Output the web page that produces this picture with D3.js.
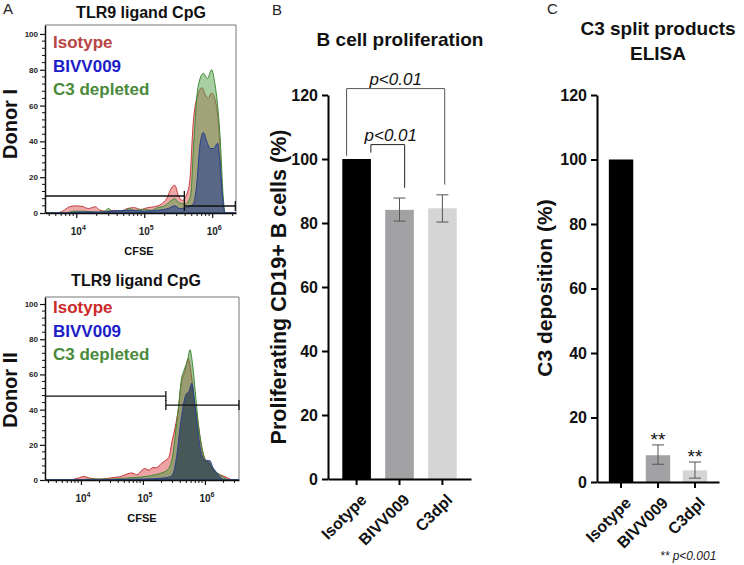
<!DOCTYPE html>
<html><head><meta charset="utf-8">
<script src="https://cdn.jsdelivr.net/npm/d3@7"></script>
<style>body{margin:0;background:#fff} svg{display:block;font-family:"Liberation Sans",Arial,sans-serif}</style>
</head><body><svg id="c" width="744" height="565"></svg>
<script>
// ---------------- DATA ----------------
// Panel A histograms: [log10(CFSE), count]
const donorI_isotype = [[3.54,0],[3.7,0],[3.8,1],[3.9,3.5],[4.0,4],[4.1,3.5],[4.18,2.5],[4.28,3.5],[4.35,1.5],[4.45,1],[4.55,1.5],[4.65,1],[4.75,2.5],[4.85,3],[4.95,2],[5.05,3],[5.15,3.5],[5.25,5],[5.33,8],[5.4,14],[5.45,15.5],[5.5,10],[5.56,7],[5.62,10],[5.67,18],[5.72,50],[5.78,65],[5.85,70],[5.9,66],[5.94,64],[5.99,67],[6.05,62],[6.1,45],[6.14,15],[6.17,2],[6.2,0],[6.35,0]];
const donorI_bivv009 = [[3.54,0],[3.9,0],[4.0,0.5],[4.4,0.5],[4.5,1],[4.8,1.5],[5.0,1],[5.2,1.5],[5.35,2.5],[5.45,4],[5.52,2.5],[5.62,3],[5.72,5],[5.77,15],[5.82,38],[5.87,45],[5.92,40],[5.97,36],[6.02,36],[6.08,39],[6.11,30],[6.15,10],[6.19,0],[6.35,0]];
const donorI_c3depleted = [[3.54,0],[3.85,0],[3.95,1],[4.1,1],[4.3,0.5],[4.42,1],[4.47,2.5],[4.55,0.5],[4.7,1],[4.78,2.5],[4.85,1.5],[5.0,2],[5.1,1.5],[5.2,3],[5.3,4],[5.4,7],[5.45,8],[5.5,6],[5.6,5],[5.68,9],[5.73,40],[5.79,70],[5.87,78],[5.93,75],[5.99,80],[6.04,72],[6.08,60],[6.12,40],[6.16,10],[6.19,0],[6.35,0]];
const donorII_isotype = [[3.42,0],[3.8,0],[3.95,1],[4.05,2],[4.15,1],[4.3,0.5],[4.45,1],[4.55,1.5],[4.65,2],[4.75,3.5],[4.82,4],[4.9,3],[4.97,5],[5.03,6.5],[5.1,5.5],[5.15,7],[5.22,7],[5.3,9.5],[5.36,11],[5.42,13],[5.47,22],[5.52,30],[5.57,40],[5.62,55],[5.68,62],[5.73,69],[5.78,60],[5.83,45],[5.88,35],[5.94,20],[6.0,12],[6.07,9],[6.15,5],[6.25,3],[6.35,1.5],[6.45,0],[6.55,0]];
const donorII_bivv009 = [[3.42,0],[4.3,0],[4.6,0.3],[5.0,0.5],[5.3,1],[5.45,2],[5.5,5],[5.55,15],[5.6,30],[5.65,42],[5.7,49],[5.74,50],[5.79,55],[5.84,42],[5.88,30],[5.93,17],[5.98,12],[6.03,11],[6.08,11],[6.13,7],[6.19,4],[6.25,1.5],[6.32,0],[6.55,0]];
const donorII_c3depleted = [[3.42,0],[4.0,0],[4.1,0.5],[4.5,0.5],[4.7,1],[4.9,1.5],[5.05,2],[5.2,3],[5.3,4],[5.4,6],[5.47,12],[5.52,25],[5.57,40],[5.62,57],[5.67,63],[5.72,68],[5.76,74],[5.8,66],[5.85,48],[5.9,30],[5.95,19],[6.0,12],[6.06,10],[6.12,7],[6.2,4],[6.3,1.5],[6.4,0],[6.55,0]];
// gates: [fromLog, toLog, level]
const gatesDonorI = [[3.54,5.59,9.5],[5.59,6.34,3.9]];
const gatesDonorII = [[3.42,5.37,47.7],[5.37,6.55,42.6]];
const histLegend = ["Isotype","BIVV009","C3 depleted"];
const histYTicks = [0,20,40,60,80,100];
const histXTicks = [4,5,6];

// Panels B and C
const barCategories = ["Isotype","BIVV009","C3dpl"];
const prolifMean = [100,84.1,84.6];
const prolifLow  = [null,80.6,80.3];
const prolifHigh = [null,87.8,88.8];
const c3Mean = [100,8.3,3.6];
const c3Low  = [null,5.5,1.2];
const c3High = [null,11.5,6.2];
const barYTicks = [0,20,40,60,80,100,120];
const barColors = ["#000000","#a2a2a4","#d5d5d5"];
const c3Stars = [null,"**","**"];

// ---------------- DRAW ----------------
const svg = d3.select("#c");
const FONT = '"Liberation Sans",Arial,sans-serif';

function panelLetter(t,x,y){
  svg.append("text").attr("x",x).attr("y",y).attr("font-size",15).attr("fill","#222").text(t);
}
panelLetter("A",3,14); panelLetter("B",272,15); panelLetter("C",547,14);

const histStylesI = {
  "Isotype":   {fill:"rgba(224,96,96,0.55)", stroke:"#c24040"},
  "BIVV009":   {fill:"rgba(42,66,140,0.62)", stroke:"#2a3d8f"},
  "C3 depleted":{fill:"rgba(84,160,74,0.5)", stroke:"#3d8a35"}
};
const histStylesII = {
  "Isotype":   {fill:"rgba(224,90,90,0.55)", stroke:"#c23030"},
  "BIVV009":   {fill:"rgba(40,62,80,0.72)", stroke:"#2a3d8f"},
  "C3 depleted":{fill:"rgba(84,150,70,0.55)", stroke:"#3d8a35"}
};

function drawHist(cfg){
  const g = svg.append("g");
  const x = d3.scaleLog().domain([10**cfg.xmin,10**cfg.xmax]).range([cfg.left,cfg.right]);
  const y = d3.scaleLinear().domain([0,cfg.ymax]).range([cfg.bottom,cfg.top]);
  const cid = "clip"+cfg.id;
  svg.append("clipPath").attr("id",cid).append("rect")
    .attr("x",cfg.left).attr("y",cfg.top).attr("width",cfg.right-cfg.left).attr("height",cfg.bottom-cfg.top);
  const area = d3.area().x(d=>x(10**d[0])).y0(y(0)).y1(d=>y(d[1])).curve(d3.curveMonotoneX);
  const hg = g.append("g").attr("clip-path",`url(#${cid})`);
  cfg.order.forEach(k=>{
    hg.append("path").datum(cfg.series[k]).attr("d",area)
      .attr("fill",cfg.styles[k].fill).attr("stroke",cfg.styles[k].stroke).attr("stroke-width",1);
  });
  // frame
  g.append("path").attr("d",`M${cfg.left},${cfg.top}H${cfg.right}V${cfg.bottom}`)
    .attr("fill","none").attr("stroke","#777").attr("stroke-width",1);
  // y axis
  const yMinor = d3.range(0,cfg.ymax+0.01,4).filter(v=>v%20!==0 && v<=100);
  const ya = g.append("g").attr("transform",`translate(${cfg.left},0)`)
    .call(d3.axisLeft(y).tickValues(histYTicks).tickSize(5).tickSizeOuter(0).tickPadding(2));
  ya.select(".domain").attr("stroke","#111").attr("stroke-width",1.5);
  ya.selectAll(".tick line").attr("stroke","#111").attr("stroke-width",1.2);
  ya.selectAll("text").attr("font-family",FONT).attr("font-weight","bold").attr("font-size",8).attr("fill","#222");
  ya.selectAll(".minor").data(yMinor).enter().append("line").attr("class","minor")
    .attr("x1",-3).attr("x2",0).attr("y1",d=>y(d)).attr("y2",d=>y(d)).attr("stroke","#111").attr("stroke-width",1);
  // x axis
  const minors=[];
  for(let e=3;e<=6;e++) for(let m=2;m<=9;m++){const v=m*10**e; if(v>=10**cfg.xmin && v<=10**cfg.xmax) minors.push(v);}
  const xa = g.append("g").attr("transform",`translate(0,${cfg.bottom})`)
    .call(d3.axisBottom(x).tickValues(histXTicks.map(e=>10**e)).tickSize(5).tickSizeOuter(0).tickFormat(""));
  xa.select(".domain").attr("stroke","#111").attr("stroke-width",1.5);
  xa.selectAll(".tick line").attr("stroke","#111").attr("stroke-width",1.2);
  xa.selectAll(".minor").data(minors).enter().append("line").attr("class","minor")
    .attr("x1",d=>x(d)).attr("x2",d=>x(d)).attr("y1",0).attr("y2",3).attr("stroke","#111").attr("stroke-width",1);
  histXTicks.forEach(e=>{
    const t = g.append("text").attr("x",x(10**e)+2).attr("y",cfg.tickLabelY).attr("text-anchor","middle")
      .attr("font-weight","bold").attr("font-size",10).attr("fill","#222");
    t.append("tspan").text("10");
    t.append("tspan").attr("font-size",7).attr("dy",-5.5).text(e);
  });
  g.append("text").attr("x",cfg.cfseX).attr("y",cfg.cfseY).attr("text-anchor","middle")
    .attr("font-weight","bold").attr("font-size",11).attr("fill","#111").text("CFSE");
  // gates
  cfg.gates.forEach(gt=>{
    const x0=x(10**gt[0]), x1=x(10**gt[1]), yy=y(gt[2]);
    g.append("line").attr("x1",x0).attr("x2",x1).attr("y1",yy).attr("y2",yy).attr("stroke","#111").attr("stroke-width",1.3);
    [x0,x1].forEach(xx=>{ if(xx>cfg.left+1) g.append("line").attr("x1",xx).attr("x2",xx).attr("y1",yy-5).attr("y2",yy+5).attr("stroke","#111").attr("stroke-width",1.3);});
  });
  // title
  g.append("text").attr("x",cfg.titleX).attr("y",cfg.titleY).attr("text-anchor","middle")
    .attr("font-weight","bold").attr("font-size",16).attr("fill","#111").text("TLR9 ligand CpG");
  // legend
  histLegend.forEach((k,i)=>{
    g.append("text").attr("x",cfg.left+8).attr("y",cfg.legendY+i*23.5).attr("font-weight","bold").attr("font-size",17)
      .attr("fill",cfg.legendColors[i]).text(k);
  });
  // donor label
  g.append("text").attr("transform",`translate(17,${cfg.donorY}) rotate(-90)`).attr("text-anchor","middle")
    .attr("font-weight","bold").attr("font-size",20).attr("fill","#111").text(cfg.donor);
}

drawHist({id:"I",left:45,right:236,top:25,bottom:213,xmin:3.54,xmax:6.35,ymax:105,styles:histStylesI,
  series:{"Isotype":donorI_isotype,"BIVV009":donorI_bivv009,"C3 depleted":donorI_c3depleted},
  order:["Isotype","C3 depleted","BIVV009"],gates:gatesDonorI,tickLabelY:235,cfseX:139,cfseY:255,
  titleX:141,titleY:18,legendY:48,legendColors:["#b84444","#1c1cc8","#4a8a3a"],donor:"Donor I",donorY:124});
drawHist({id:"II",left:45,right:239,top:297,bottom:480,xmin:3.42,xmax:6.55,ymax:104,styles:histStylesII,
  series:{"Isotype":donorII_isotype,"BIVV009":donorII_bivv009,"C3 depleted":donorII_c3depleted},
  order:["Isotype","C3 depleted","BIVV009"],gates:gatesDonorII,tickLabelY:502,cfseX:142,cfseY:522,
  titleX:136,titleY:286,legendY:313,legendColors:["#cc2a2a","#1c1cc8","#4a8a3a"],donor:"Donor II",donorY:390});

function drawBars(cfg){
  const g = svg.append("g");
  const x = d3.scaleBand().domain(barCategories).range([cfg.left,cfg.right]).paddingInner(cfg.pin).paddingOuter(cfg.pout);
  const y = d3.scaleLinear().domain([0,120]).range([cfg.bottom,95]);
  const bw = x.bandwidth();
  g.selectAll("rect.bar").data(barCategories).enter().append("rect").attr("class","bar")
    .attr("x",d=>x(d)).attr("width",bw).attr("y",(d,i)=>y(cfg.mean[i])).attr("height",(d,i)=>y(0)-y(cfg.mean[i]))
    .attr("fill",(d,i)=>barColors[i]);
  // error bars
  barCategories.forEach((c,i)=>{
    if(cfg.low[i]==null) return;
    const cx = x(c)+bw/2, lo=y(cfg.low[i]), hi=y(cfg.high[i]);
    g.append("line").attr("x1",cx).attr("x2",cx).attr("y1",lo).attr("y2",hi).attr("stroke","#555").attr("stroke-width",1);
    [lo,hi].forEach(yy=>g.append("line").attr("x1",cx-6).attr("x2",cx+6).attr("y1",yy).attr("y2",yy).attr("stroke","#555").attr("stroke-width",1));
  });
  const ya = g.append("g").attr("transform",`translate(${cfg.left},0)`)
    .call(d3.axisLeft(y).tickValues(barYTicks).tickSize(6).tickSizeOuter(0).tickPadding(4));
  ya.select(".domain").attr("stroke","#000").attr("stroke-width",2);
  ya.selectAll(".tick line").attr("stroke","#000").attr("stroke-width",2);
  ya.selectAll("text").attr("font-family",FONT).attr("font-weight","bold").attr("font-size",16).attr("fill","#111");
  const xa = g.append("g").attr("transform",`translate(0,${cfg.bottom})`)
    .call(d3.axisBottom(x).tickSize(6).tickSizeOuter(0).tickFormat(""));
  xa.select(".domain").attr("stroke","#000").attr("stroke-width",2);
  xa.selectAll(".tick line").attr("stroke","#000").attr("stroke-width",2);
  barCategories.forEach(c=>{
    g.append("text").attr("transform",`translate(${x(c)+bw/2+7},${cfg.bottom+18}) rotate(-45)`)
      .attr("text-anchor","end").attr("dy","0.35em").attr("font-weight","bold").attr("font-size",16).attr("fill","#111").text(c);
  });
  g.append("text").attr("transform",`translate(${cfg.ylabX},${cfg.ylabY}) rotate(-90)`).attr("text-anchor","middle")
    .attr("font-weight","bold").attr("font-size",cfg.ylabSize).attr("fill","#111").text(cfg.ylab);
  cfg.titles.forEach((t,i)=>g.append("text").attr("x",cfg.titleX).attr("y",cfg.titleY+i*25).attr("text-anchor","middle")
    .attr("font-weight","bold").attr("font-size",19).attr("fill","#111").text(t));
  return {g,x,y,bw};
}

const B = drawBars({left:328,right:471,bottom:479,pin:0.333,pout:0.333,mean:prolifMean,low:prolifLow,high:prolifHigh,
  ylab:"Proliferating CD19+ B cells  (%)",ylabX:286,ylabY:287,ylabSize:21.5,titles:["B cell proliferation"],titleX:400,titleY:46});
// significance brackets (panel B)
const bracketsB = [{from:"Isotype",to:"C3dpl",level:122,leftDrop:101,rightDrop:92,label:"p<0.01"},
                   {from:"Isotype",to:"BIVV009",level:104.5,leftDrop:102,rightDrop:91,label:"p<0.01"}];
bracketsB.forEach((b,i)=>{
  const xl = i===0 ? B.x(b.from)+B.bw*0.15 : B.x(b.from)+B.bw;
  const xr = i===0 ? B.x(b.to)+B.bw*0.58 : B.x(b.to)+B.bw*0.68;
  const yl = B.y(b.level);
  B.g.append("path").attr("d",`M${xl},${B.y(b.leftDrop)}V${yl}H${xr}V${B.y(b.rightDrop)}`)
    .attr("fill","none").attr("stroke",i===0?"#555":"#222").attr("stroke-width",1);
  B.g.append("text").attr("x",(xl+xr)/2+(i===0?0:3)).attr("y",yl-4).attr("text-anchor","middle")
    .attr("font-style","italic").attr("font-size",17).attr("fill","#111").text(b.label);
});

const C = drawBars({left:597,right:719,bottom:482,pin:0.34,pout:0.32,mean:c3Mean,low:c3Low,high:c3High,
  ylab:"C3 deposition (%)",ylabX:552,ylabY:288,ylabSize:21,titles:["C3 split products","ELISA"],titleX:658,titleY:35});
barCategories.forEach((c,i)=>{
  if(!c3Stars[i]) return;
  C.g.append("text").attr("x",C.x(c)+C.bw/2).attr("y",C.y(c3High[i])+1).attr("text-anchor","middle")
    .attr("font-size",19).attr("fill","#111").text(c3Stars[i]);
});
C.g.append("text").attr("x",660).attr("y",560).attr("font-style","italic").attr("font-size",12).attr("fill","#222").text("** p<0.001");
</script></body></html>
